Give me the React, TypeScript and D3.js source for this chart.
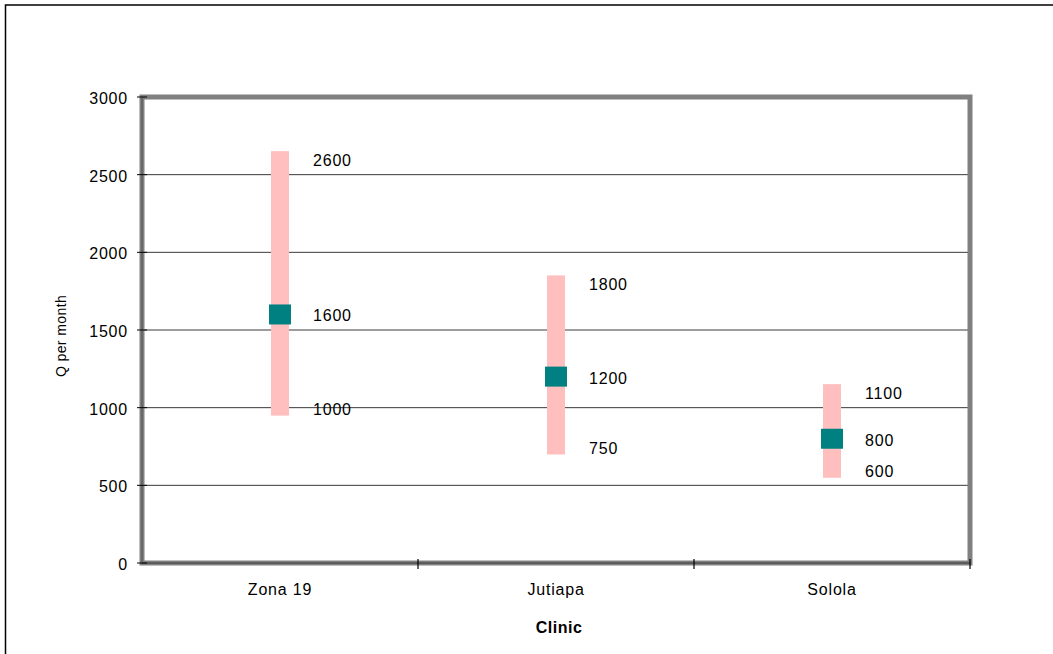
import React from "react";
import * as d3 from "d3";

// Monthly cost ranges per clinic (Q per month)
const clinics = ["Zona 19", "Jutiapa", "Solola"];
const lowValues = [1000, 750, 600];
const midValues = [1600, 1200, 800];
const highValues = [2600, 1800, 1100];
const yTicks = [0, 500, 1000, 1500, 2000, 2500, 3000];

const W = 1053;
const H = 654;
const plot = { left: 142, right: 970, top: 97, bottom: 563 };
const font = "Arial, 'Liberation Sans', Helvetica, sans-serif";

export default function App() {
  const x = d3
    .scaleBand<string>()
    .domain(clinics)
    .range([plot.left, plot.right])
    .padding(0);
  const y = d3.scaleLinear().domain([0, 3000]).range([plot.bottom, plot.top]);

  const barW = 18;
  const capExt = 8;
  const markW = 22;
  const markH = 20;
  const bounds = [plot.left, ...clinics.map((c) => (x(c) as number) + x.bandwidth())];

  return (
    <svg
      width={W}
      height={H}
      style={{ position: "absolute", left: 0, top: 0, background: "#fff" }}
      fontFamily={font}
    >
      {/* outer chart frame */}
      <rect x={5.5} y={5} width={W + 20} height={H + 20} fill="#fff" stroke="#000" strokeWidth={1.5} />

      {/* gridlines */}
      {yTicks
        .filter((t) => t > 0 && t < 3000)
        .map((t) => (
          <line
            key={`g${t}`}
            x1={plot.left}
            x2={plot.right}
            y1={y(t)}
            y2={y(t)}
            stroke="#3a3a3a"
            strokeWidth={1}
          />
        ))}

      {/* plot area border */}
      <rect
        x={plot.left}
        y={plot.top}
        width={plot.right - plot.left}
        height={plot.bottom - plot.top}
        fill="none"
        stroke="#808080"
        strokeWidth={5}
      />
      <line x1={plot.left} x2={plot.left} y1={plot.top} y2={plot.bottom} stroke="#606060" strokeWidth={1.5} />
      <line x1={plot.left} x2={plot.right} y1={plot.bottom} y2={plot.bottom} stroke="#505050" strokeWidth={1.5} />

      {/* y axis ticks & labels */}
      {yTicks.map((t) => (
        <g key={`y${t}`}>
          <line x1={plot.left - 5} x2={plot.left + 5} y1={y(t)} y2={y(t)} stroke="#000" strokeWidth={1} />
          <text
            x={128}
            y={y(t) + 7}
            textAnchor="end"
            fontSize={16}
            letterSpacing={0.8}
            fill="#000"
          >
            {t}
          </text>
        </g>
      ))}

      {/* x axis ticks */}
      {bounds.slice(1).map((b, i) => (
        <line key={`xt${i}`} x1={b} x2={b} y1={plot.bottom - 4} y2={plot.bottom + 6} stroke="#000" strokeWidth={1.2} />
      ))}

      {/* category labels */}
      {clinics.map((c) => (
        <text
          key={`c${c}`}
          x={(x(c) as number) + x.bandwidth() / 2}
          y={595}
          textAnchor="middle"
          fontSize={16}
          letterSpacing={0.8}
          fill="#000"
        >
          {c}
        </text>
      ))}

      {/* axis titles */}
      <text x={559} y={633} textAnchor="middle" fontSize={16} fontWeight="bold" letterSpacing={0.5} fill="#000">
        Clinic
      </text>
      <text
        transform="translate(66,336) rotate(-90)"
        textAnchor="middle"
        fontSize={14}
        letterSpacing={0.4}
        fill="#000"
      >
        Q per month
      </text>

      {/* range bars, midpoint markers and value labels */}
      {clinics.map((c, i) => {
        const cx = (x(c) as number) + x.bandwidth() / 2;
        const yHi = y(highValues[i]);
        const yLo = y(lowValues[i]);
        const yMid = y(midValues[i]);
        return (
          <g key={`s${c}`}>
            <rect
              x={cx - barW / 2}
              y={yHi - capExt}
              width={barW}
              height={yLo - yHi + 2 * capExt}
              fill="#FFBFBF"
            />
            <rect x={cx - markW / 2} y={yMid - markH / 2} width={markW} height={markH} fill="#008080" />
            {[highValues[i], midValues[i], lowValues[i]].map((v, k) => (
              <text
                key={`l${k}`}
                x={cx + 33}
                y={y(v) + 7}
                fontSize={16}
                letterSpacing={0.8}
                fill="#000"
              >
                {v}
              </text>
            ))}
          </g>
        );
      })}
    </svg>
  );
}
